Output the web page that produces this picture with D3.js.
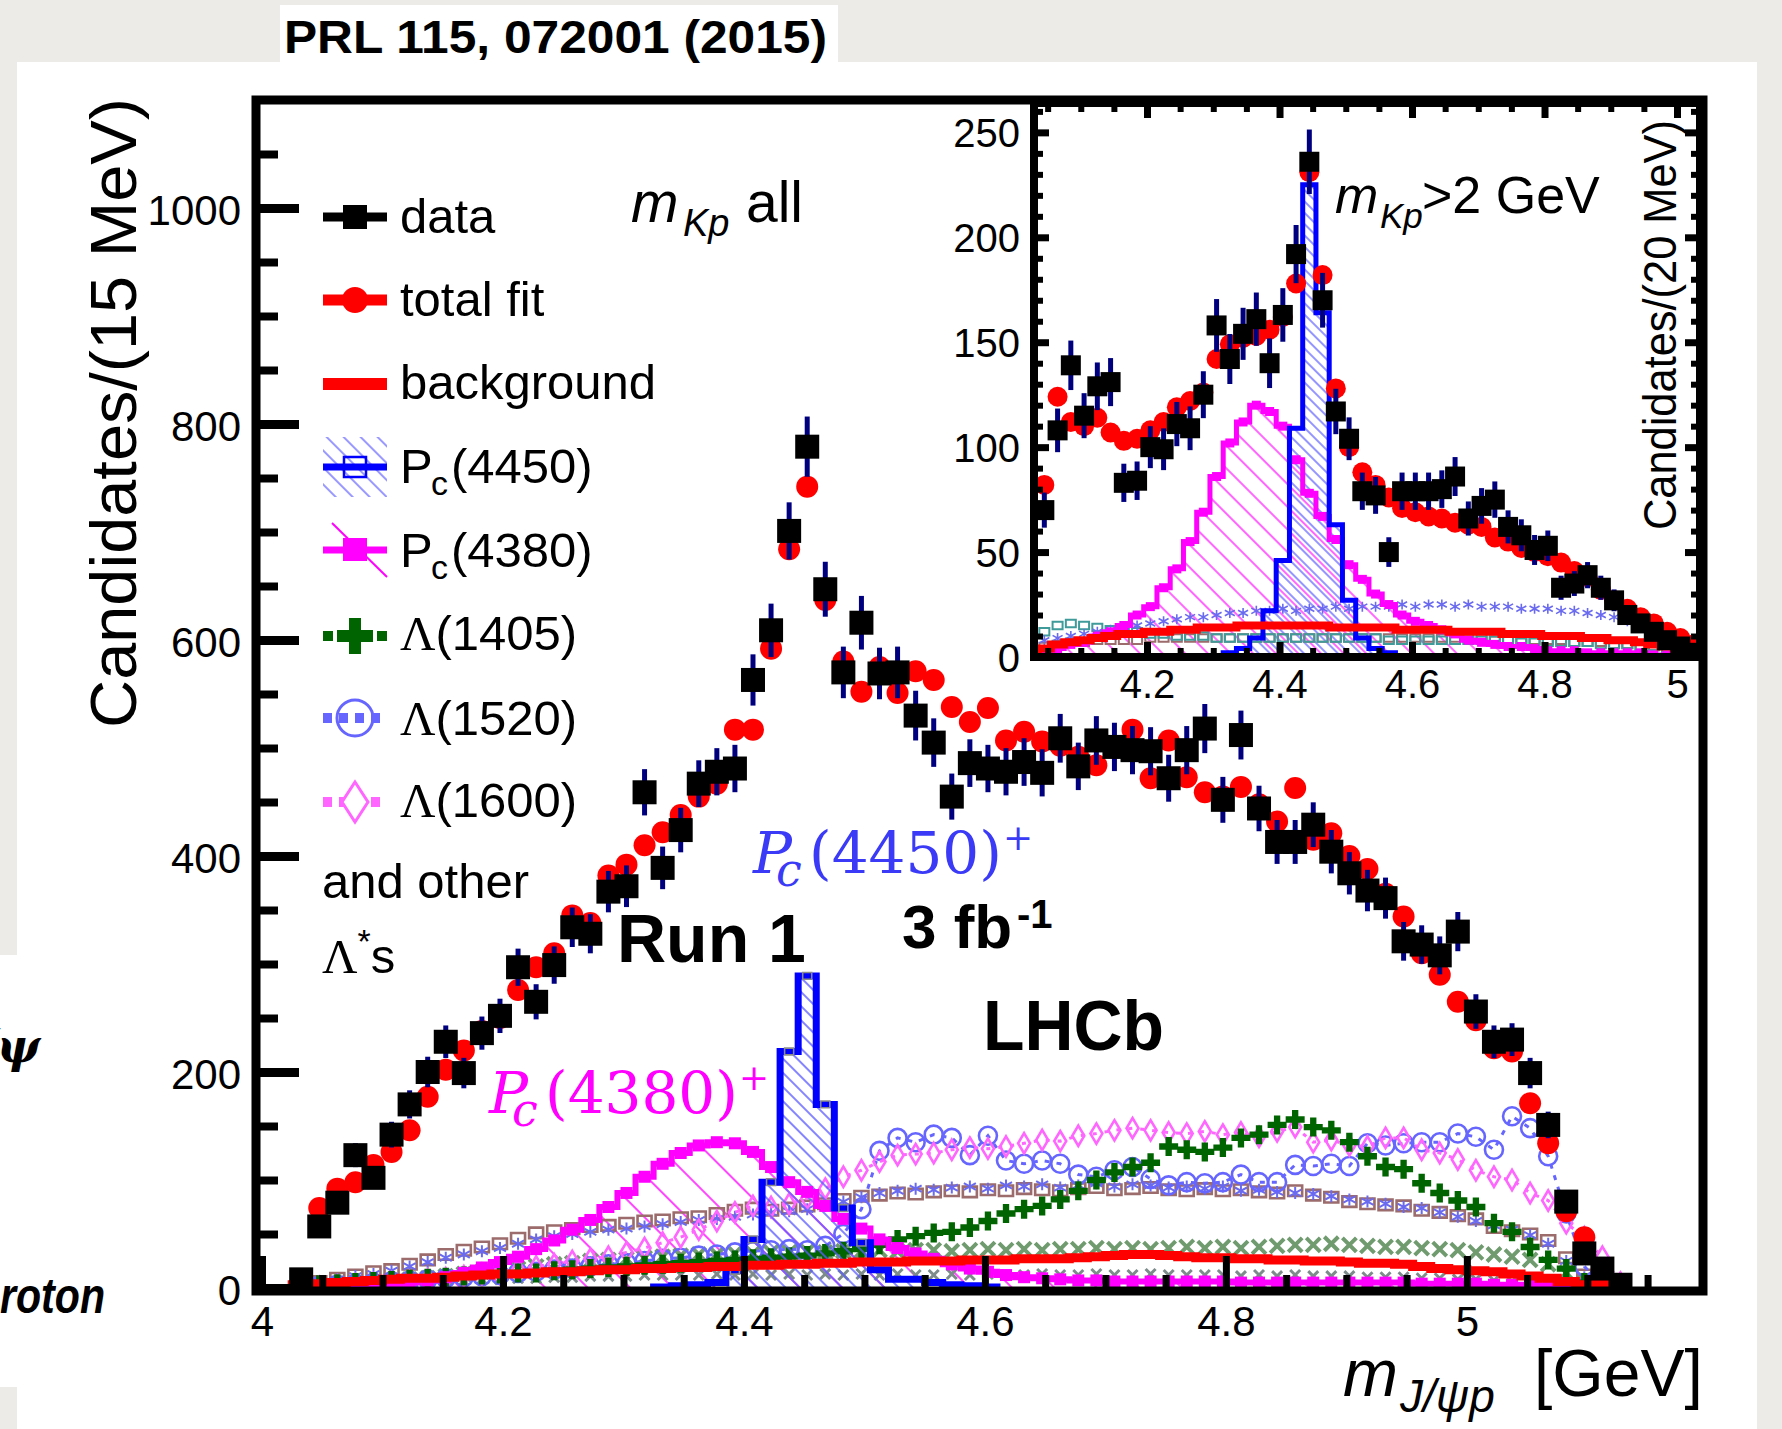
<!DOCTYPE html>
<html>
<head>
<meta charset="utf-8">
<script src="https://cdn.jsdelivr.net/npm/d3@7/dist/d3.min.js"></script>
<style>
html,body{margin:0;padding:0;background:#edebe7;}
svg{display:block;}
</style>
</head>
<body>
<svg id="chart"></svg>
<script>
// ---------------- DATA : main plot (15 MeV bins) ----------------
const mainBins = [4.0325,4.0475,4.0625,4.0775,4.0925,4.1075,4.1225,4.1375,4.1525,4.1675,4.1825,4.1975,4.2125,4.2275,4.2425,4.2575,4.2725,4.2875,4.3025,4.3175,4.3325,4.3475,4.3625,4.3775,4.3925,4.4075,4.4225,4.4375,4.4525,4.4675,4.4825,4.4975,4.5125,4.5275,4.5425,4.5575,4.5725,4.5875,4.6025,4.6175,4.6325,4.6475,4.6625,4.6775,4.6925,4.7075,4.7225,4.7375,4.7525,4.7675,4.7825,4.7975,4.8125,4.8275,4.8425,4.8575,4.8725,4.8875,4.9025,4.9175,4.9325,4.9475,4.9625,4.9775,4.9925,5.0075,5.0225,5.0375,5.0525,5.0675,5.0825,5.0975,5.1125,5.1275];
const mainData = [8,57,79,123,102,142,170,200,228,199,236,252,297,265,299,334,328,367,372,459,389,424,467,478,481,563,609,701,779,647,570,616,569,570,530,505,455,486,481,478,487,477,509,483,507,501,498,497,472,498,518,452,512,444,413,413,429,404,384,368,361,321,318,308,330,256,228,230,199,151,80,32,18,3];
const mainFit = [8,74,92,98,114,126,146,177,202,220,238,250,276,297,310,345,338,382,392,410,422,438,455,467,517,517,592,684,742,637,580,552,575,551,571,563,538,524,537,507,515,506,502,492,484,500,517,472,507,473,459,455,464,448,432,463,415,421,400,388,365,344,310,290,265,248,222,219,171,134,71,47,5,1];
const mainBkg = [3,4,5,6,7,8,9,9,10,11,12,13,13,14,15,15,16,17,17,18,18,19,19,20,20,21,21,22,22,23,23,24,24,24,25,25,25,26,26,26,27,27,27,28,29,30,31,31,30,29,28,28,27,27,26,26,25,25,24,23,23,22,20,18,17,16,15,13,11,9,6,3,1,0];
const mainPc4450 = [0,0,0,0,0,0,0,0,0,0,0,0,0,0,0,0,0,0,0,0,1,2,3,5,16,45,98,219,289,170,74,42,17,8,8,5,3,2,1,0,0,0,0,0,0,0,0,0,0,0,0,0,0,0,0,0,0,0,0,0,0,0,0,0,0,0,0,0,0,0,0,0,0,0];
const mainPc4380 = [1,1,1,1,2,3,5,7,10,14,19,24,29,36,44,54,63,75,88,103,115,125,132,135,134,126,112,98,89,76,64,55,45,37,32,27,22,18,15,12,10,9,8,7,7,6,6,6,6,6,6,6,5,5,5,5,5,5,5,5,5,5,4,4,4,4,3,3,3,2,1,0,0,0];
const mainL1405 = [1,3,4,5,6,7,8,9,10,11,12,13,14,14,16,17,18,19,20,21,22,23,24,25,26,27,28,29,30,32,34,36,40,45,48,51,52,56,62,69,73,76,82,90,100,107,112,116,131,128,126,130,139,142,151,156,149,146,135,122,112,110,97,88,81,75,60,52,38,26,18,5,1,0];
const mainL1520 = [1,2,3,4,5,6,7,8,9,10,11,12,14,15,17,18,20,22,23,25,27,28,30,31,33,34,35,36,35,39,50,73,127,139,135,142,139,123,141,118,115,118,115,105,103,109,112,101,95,98,97,98,105,98,98,114,113,115,113,134,132,134,135,135,143,140,128,159,148,122,69,20,3,0];
const mainL1600 = [0,1,2,3,4,5,6,8,9,11,13,15,17,20,22,25,27,29,33,37,42,47,54,62,70,76,75,78,83,92,103,109,117,123,124,125,128,130,129,131,134,137,136,141,143,146,148,146,144,143,145,142,144,140,145,149,135,137,132,131,139,139,128,125,119,109,103,100,88,81,60,47,29,5];
const mainOtherBrown = [2,6,9,12,15,17,22,26,31,35,38,41,46,51,53,55,57,58,60,62,63,65,66,69,72,74,72,74,76,78,82,85,86,88,87,89,90,89,91,90,92,91,90,92,93,91,92,93,91,90,92,90,91,89,88,90,86,84,80,78,77,76,72,70,67,64,56,53,50,44,28,12,3,0];
const mainOtherBlue = [1,4,8,11,13,16,20,24,28,31,34,37,41,45,48,50,52,54,55,57,59,61,63,64,66,68,70,71,73,76,80,84,88,90,92,91,93,94,92,95,94,96,93,95,97,94,96,95,93,94,92,94,90,91,89,88,87,85,82,80,78,75,74,70,66,62,58,54,49,41,25,10,2,0];
const mainOtherGreen = [1,2,3,4,5,6,8,9,11,13,15,17,18,20,22,23,25,26,27,28,29,30,31,31,32,32,33,33,34,33,34,34,35,34,35,35,34,35,36,35,36,35,36,36,37,36,37,36,37,38,37,38,37,38,39,40,40,41,40,39,38,38,37,36,35,33,31,29,26,22,14,6,1,0];
const mainOtherGrey = [1,2,3,3,4,5,5,6,7,7,8,8,9,9,10,10,11,11,11,12,12,12,12,13,12,13,12,13,12,13,12,13,12,13,12,12,13,12,13,12,12,13,12,12,13,12,12,13,12,12,12,12,11,12,11,12,11,11,11,10,10,10,9,9,8,8,7,6,5,4,3,1,0,0];

// ---------------- DATA : inset (20 MeV bins, mKp > 2 GeV) ----------------
const insetBins = [4.045,4.065,4.085,4.105,4.125,4.145,4.165,4.185,4.205,4.225,4.245,4.265,4.285,4.305,4.325,4.345,4.365,4.385,4.405,4.425,4.445,4.465,4.485,4.505,4.525,4.545,4.565,4.585,4.605,4.625,4.645,4.665,4.685,4.705,4.725,4.745,4.765,4.785,4.805,4.825,4.845,4.865,4.885,4.905,4.925,4.945,4.965,4.985,5.005,5.025];
const insetData = [70,108,139,115,129,131,83,84,100,99,111,109,125,158,142,154,161,140,163,192,236,170,117,104,79,77,50,79,79,79,80,86,66,72,75,62,58,51,53,33,35,39,33,27,20,16,12,8,5,2];
const insetFit = [82,124,112,110,114,107,103,104,108,112,119,122,126,142,149,152,153,156,162,178,231,182,128,100,88,82,76,71,69,67,66,64,63,62,57,55,52,50,48,45,41,38,32,27,23,19,16,12,9,6];
const insetBkg = [4,6,7,8,9,10,11,11,12,12,13,13,14,14,14,15,15,15,15,15,15,15,14,14,14,14,14,13,13,13,13,12,12,12,12,11,11,11,10,10,10,9,9,8,8,7,6,5,4,3];
const insetPc4450 = [0,0,0,0,0,0,0,0,0,0,0,0,0,0,2,4,9,22,46,109,225,164,63,27,9,4,2,0,0,0,0,0,0,0,0,0,0,0,0,0,0,0,0,0,0,0,0,0,0,0];
const insetPc4380 = [3,4,6,7,10,12,15,20,24,33,42,55,69,86,102,112,120,117,110,94,78,67,56,44,37,30,25,20,17,15,13,11,8,7,6,5,5,4,3,3,3,2,2,2,2,2,1,1,1,0];
const insetOtherBlue = [8,9,10,11,12,13,14,15,16,17,18,19,19,20,21,21,22,22,23,22,23,23,24,23,24,24,24,25,24,25,25,24,25,24,24,24,23,23,23,22,22,21,20,19,17,15,13,10,8,5];
const insetOtherTeal = [12,15,16,15,14,13,12,12,11,11,10,10,10,9,9,9,9,9,9,9,9,9,9,9,9,9,8,8,8,8,8,8,8,8,8,8,7,7,7,7,7,7,6,6,6,5,5,4,3,2];
const insetOtherBrown = [5,6,7,7,8,8,8,8,9,9,9,9,9,9,9,9,9,9,9,9,9,9,9,9,9,9,9,9,9,9,9,9,9,9,8,8,8,8,8,8,7,7,7,6,6,5,5,4,3,2];

// ---------------- ticks / labels ----------------
const mainXTicks = [4, 4.2, 4.4, 4.6, 4.8, 5];
const mainYTicks = [0, 200, 400, 600, 800, 1000];
const insetXTicks = [4.2, 4.4, 4.6, 4.8, 5];
const insetYTicks = [0, 50, 100, 150, 200, 250];
const legendLabels = ["data", "total fit", "background", "Pc(4450)", "Pc(4380)", "Λ(1405)", "Λ(1520)", "Λ(1600)"];

// ---------------- SETUP ----------------
const W = 1782, H = 1429;
const SANS = '"Liberation Sans", Arial, Helvetica, sans-serif';
const SERIF = '"Liberation Serif", "Times New Roman", serif';
const DSERIF = '"DejaVu Serif", serif';
const svg = d3.select('#chart').attr('width', W).attr('height', H);

// page / slide background
svg.append('rect').attr('width', W).attr('height', H).attr('fill', '#edebe7');
svg.append('rect').attr('x', 17).attr('y', 62).attr('width', 1740).attr('height', H - 62).attr('fill', '#fff');
svg.append('rect').attr('x', 0).attr('y', 955).attr('width', 17).attr('height', 432).attr('fill', '#fff');
svg.append('rect').attr('x', 280).attr('y', 5).attr('width', 558).attr('height', 58).attr('fill', '#fff');
svg.append('text').attr('x', 284).attr('y', 53).attr('font-family', SANS).attr('font-weight', 'bold')
  .attr('font-size', 46).attr('textLength', 543).attr('lengthAdjust', 'spacingAndGlyphs')
  .text('PRL 115, 072001 (2015)');
svg.append('text').attr('x', 40).attr('y', 1062).attr('text-anchor', 'end').attr('font-family', DSERIF)
  .attr('font-weight', 'bold').attr('font-style', 'italic').attr('font-size', 46).text('J/ψ');
svg.append('text').attr('x', 0).attr('y', 1313).attr('font-family', SANS)
  .attr('font-weight', 'bold').attr('font-style', 'italic').attr('font-size', 50)
  .attr('textLength', 105).attr('lengthAdjust', 'spacingAndGlyphs').text('roton');

const defs = svg.append('defs');
function hatch(id, color, gap, sw) {
  const p = defs.append('pattern').attr('id', id).attr('patternUnits', 'userSpaceOnUse')
    .attr('width', gap).attr('height', gap).attr('patternTransform', 'rotate(-45)');
  p.append('line').attr('x1', gap / 2).attr('y1', 0).attr('x2', gap / 2).attr('y2', gap)
    .attr('stroke', color).attr('stroke-width', sw);
}
hatch('hB', '#5c5cff', 10, 1.5);
hatch('hM', '#ff33ff', 30, 1.8);
hatch('hBi', '#5c5cff', 8, 1.3);
hatch('hMi', '#ff33ff', 16, 1.5);
hatch('hBl', '#8080ff', 12, 1.6);

// ---------------- helpers ----------------
function stepPath(centers, vals, w, xs, ys) {
  let i0 = vals.findIndex(v => v > 0), i1 = vals.length - 1;
  while (i1 >= 0 && vals[i1] <= 0) i1--;
  if (i0 < 0) return '';
  let p = `M${xs(centers[i0] - w / 2)},${ys(0)}`;
  for (let i = i0; i <= i1; i++) p += `V${ys(vals[i])}H${xs(centers[i] + w / 2)}`;
  return p + `V${ys(0)}`;
}
function shape(type, s) {
  const h = s / 2;
  switch (type) {
    case 'plus': { const a = s / 6; return `M${-a},${-h}H${a}V${-a}H${h}V${a}H${a}V${h}H${-a}V${a}H${-h}V${-a}H${-a}Z`; }
    case 'circle': return `M${-h},0A${h},${h} 0 1,0 ${h},0A${h},${h} 0 1,0 ${-h},0Z`;
    case 'diamond': return `M0,${-h * 1.35}L${h * 0.8},0L0,${h * 1.35}L${-h * 0.8},0Z`;
    case 'square': return `M${-h},${-h}H${h}V${h}H${-h}Z`;
    case 'rect': return `M${-h},${-h * 0.75}H${h}V${h * 0.75}H${-h}Z`;
    case 'x': return `M${-h},${-h}L${h},${h}M${h},${-h}L${-h},${h}`;
    case 'star': return `M0,${-h}V${h}M${-h},${-h * 0.55}L${h},${h * 0.55}M${h},${-h * 0.55}L${-h},${h * 0.55}`;
  }
}
function markers(g, centers, vals, xs, ys, type, s, color, filled, sw) {
  const pts = centers.map((c, i) => [xs(c), ys(vals[i]), vals[i]]).filter(p => p[2] > 0);
  g.append('g').selectAll('path').data(pts).join('path')
    .attr('transform', p => `translate(${p[0]},${p[1]})`)
    .attr('d', shape(type, s))
    .attr('fill', filled ? color : 'none')
    .attr('stroke', filled ? 'none' : color)
    .attr('stroke-width', sw || 2);
}
function hist(g, centers, vals, w, xs, ys, stroke, sw, fill) {
  g.append('path').attr('d', stepPath(centers, vals, w, xs, ys))
    .attr('fill', fill || 'none').attr('stroke', stroke || 'none').attr('stroke-width', sw || 0)
    .attr('stroke-linejoin', 'miter');
}
function styleAxis(g, sw) {
  g.select('.domain').remove();
  g.selectAll('.tick line').attr('stroke', '#000').attr('stroke-width', sw);
  g.selectAll('.tick text').attr('font-family', SANS).attr('fill', '#000');
}

// ---------------- MAIN PLOT ----------------
const x = d3.scaleLinear().domain([3.995, 5.196]).range([256, 1703]);
const y = d3.scaleLinear().domain([0, 1100]).range([1288, 100]);
defs.append('clipPath').attr('id', 'clipMain').append('rect')
  .attr('x', 256).attr('y', 100).attr('width', 1447).attr('height', 1191);
const gm = svg.append('g').attr('clip-path', 'url(#clipMain)');

const wM = 0.015;
hist(gm, mainBins, mainPc4380, wM, x, y, null, 0, 'url(#hM)');
markers(gm, mainBins, mainOtherGrey, x, y, 'x', 10, '#7d8b8b', false, 3);
markers(gm, mainBins, mainOtherGreen, x, y, 'x', 14, '#6f9b6f', false, 4);
markers(gm, mainBins, mainOtherBrown, x, y, 'rect', 14, '#9c6b6b', false, 2.6);
markers(gm, mainBins, mainOtherBlue, x, y, 'star', 12, '#6a6af0', false, 2);
gm.append('path').attr('d', d3.line().x((d, i) => x(mainBins[i])).y(d => y(d))(mainL1520))
  .attr('fill', 'none').attr('stroke', '#6666ff').attr('stroke-width', 3).attr('stroke-dasharray', '5,7');
markers(gm, mainBins, mainL1520, x, y, 'circle', 18, '#6666ff', false, 2.6);
gm.append('path').attr('d', d3.line().x((d, i) => x(mainBins[i])).y(d => y(d))(mainL1600))
  .attr('fill', 'none').attr('stroke', '#ff66ff').attr('stroke-width', 3).attr('stroke-dasharray', '4,8');
markers(gm, mainBins, mainL1600, x, y, 'diamond', 15, '#ff66ff', false, 2.6);
markers(gm, mainBins, mainL1405, x, y, 'plus', 19, '#006400', true);
hist(gm, mainBins, mainPc4450, wM, x, y, null, 0, 'url(#hB)');
hist(gm, mainBins, mainPc4380, wM, x, y, '#ff00ff', 6);
markers(gm, mainBins, mainPc4380, x, y, 'square', 12, '#ff00ff', true);
hist(gm, mainBins, mainPc4450, wM, x, y, '#0000ff', 7);
markers(gm, mainBins.slice(24, 32), mainPc4450.slice(24, 32), x, y, 'rect', 9, '#8a8a8a', false, 1.6);
hist(gm, mainBins, mainBkg, wM, x, y, '#ff0000', 9);
gm.append('g').selectAll('circle').data(mainFit).join('circle')
  .attr('cx', (d, i) => x(mainBins[i])).attr('cy', d => y(d)).attr('r', 11).attr('fill', '#ff0000');
gm.append('g').selectAll('line').data(mainData).join('line')
  .attr('x1', (d, i) => x(mainBins[i])).attr('x2', (d, i) => x(mainBins[i]))
  .attr('y1', d => y(d + Math.sqrt(d))).attr('y2', d => y(Math.max(0, d - Math.sqrt(d))))
  .attr('stroke', '#00007f').attr('stroke-width', 5);
gm.append('g').selectAll('rect').data(mainData).join('rect')
  .attr('x', (d, i) => x(mainBins[i]) - 12).attr('y', d => y(d) - 12)
  .attr('width', 24).attr('height', 24).attr('fill', '#000');

// main axes
const gyM = svg.append('g').attr('transform', 'translate(256,0)')
  .call(d3.axisLeft(y).tickValues(mainYTicks).tickSize(-43).tickPadding(15).tickFormat(d3.format('d')));
styleAxis(gyM, 9);
gyM.selectAll('.tick text').attr('font-size', 42).attr('dy', '0.4em');
const gyMm = svg.append('g').attr('transform', 'translate(256,0)')
  .call(d3.axisLeft(y).tickValues(d3.range(50, 1100, 50).filter(v => v % 200 !== 0)).tickSize(-22).tickFormat(''));
styleAxis(gyMm, 8);
const gxM = svg.append('g').attr('transform', 'translate(0,1290)')
  .call(d3.axisBottom(x).tickValues(mainXTicks).tickSize(-34).tickPadding(16).tickFormat(d3.format('~g')));
styleAxis(gxM, 7);
gxM.selectAll('.tick text').attr('font-size', 42);
const gxMm = svg.append('g').attr('transform', 'translate(0,1290)')
  .call(d3.axisBottom(x).tickValues(d3.range(4.05, 5.19, 0.05).filter(v => Math.abs(v * 5 - Math.round(v * 5)) > 0.01)).tickSize(-15).tickFormat(''));
styleAxis(gxMm, 7);
svg.append('rect').attr('x', 256).attr('y', 100).attr('width', 1447).attr('height', 1191)
  .attr('fill', 'none').attr('stroke', '#000').attr('stroke-width', 9);

// axis titles
svg.append('text').attr('transform', 'translate(136,98) rotate(-90)').attr('text-anchor', 'end')
  .attr('font-family', SANS).attr('font-size', 64).attr('textLength', 630).attr('lengthAdjust', 'spacingAndGlyphs')
  .text('Candidates/(15 MeV)');
{
  const t = svg.append('text').attr('font-family', SANS).attr('font-size', 66).attr('y', 1396);
  t.append('tspan').attr('x', 1343).attr('font-style', 'italic').text('m');
  t.append('tspan').attr('x', 1400).attr('y', 1412).attr('font-size', 46).attr('font-style', 'italic').text('J/ψp');
  t.append('tspan').attr('x', 1534).attr('y', 1396).text('[GeV]');
}

// annotations in main plot
{
  const t = svg.append('text').attr('font-family', SANS).attr('font-size', 57).attr('y', 222);
  t.append('tspan').attr('x', 631).attr('font-style', 'italic').text('m');
  t.append('tspan').attr('x', 683).attr('y', 236).attr('font-size', 38).attr('font-style', 'italic').text('Kp');
  t.append('tspan').attr('x', 746).attr('y', 222).text('all');
}
function pcLabel(px, base, label, color) {
  const t = svg.append('text').attr('font-family', DSERIF).attr('fill', color).attr('font-size', 58).attr('y', base);
  t.append('tspan').attr('x', px).attr('font-style', 'italic').text('P');
  t.append('tspan').attr('x', px + 23).attr('y', base + 13).attr('font-size', 46).attr('font-style', 'italic').text('c');
  t.append('tspan').attr('x', px + 56).attr('y', base).text('(' + label + ')');
  t.append('tspan').attr('x', px + 250).attr('y', base - 23).attr('font-size', 36).text('+');
}
pcLabel(753, 873, '4450', '#3a3af7');
pcLabel(489, 1113, '4380', '#ff00ff');
{
  const t = svg.append('text').attr('font-family', SANS).attr('font-weight', 'bold').attr('font-size', 62).attr('y', 948);
  t.append('tspan').attr('x', 902).text('3 fb');
  t.append('tspan').attr('x', 1017).attr('y', 928).attr('font-size', 40).text('-1');
}
svg.append('text').attr('x', 617).attr('y', 962).attr('font-family', SANS).attr('font-weight', 'bold')
  .attr('font-size', 68).text('Run 1');
svg.append('text').attr('x', 983).attr('y', 1050).attr('font-family', SANS).attr('font-weight', 'bold')
  .attr('font-size', 70).attr('textLength', 181).attr('lengthAdjust', 'spacingAndGlyphs').text('LHCb');

// legend
{
  const L = svg.append('g');
  const x1 = 323, x2 = 387, cx = 355;
  const rows = [217, 300, 384, 467, 550, 636, 718, 802];
  const base = [233, 316, 399, 483, 567, 650, 735, 817];
  L.append('line').attr('x1', x1).attr('x2', x2).attr('y1', rows[0]).attr('y2', rows[0]).attr('stroke', '#000').attr('stroke-width', 9);
  L.append('rect').attr('x', cx - 12).attr('y', rows[0] - 12).attr('width', 24).attr('height', 24).attr('fill', '#000');
  L.append('line').attr('x1', x1).attr('x2', x2).attr('y1', rows[1]).attr('y2', rows[1]).attr('stroke', '#f00').attr('stroke-width', 11);
  L.append('circle').attr('cx', cx).attr('cy', rows[1]).attr('r', 13).attr('fill', '#f00');
  L.append('line').attr('x1', x1).attr('x2', x2).attr('y1', rows[2]).attr('y2', rows[2]).attr('stroke', '#f00').attr('stroke-width', 12);
  L.append('rect').attr('x', x1).attr('y', rows[3] - 30).attr('width', x2 - x1).attr('height', 60).attr('fill', 'url(#hBl)');
  L.append('line').attr('x1', x1).attr('x2', x2).attr('y1', rows[3]).attr('y2', rows[3]).attr('stroke', '#00f').attr('stroke-width', 7);
  L.append('rect').attr('x', cx - 11).attr('y', rows[3] - 10).attr('width', 22).attr('height', 20).attr('fill', 'none').attr('stroke', '#00f').attr('stroke-width', 2.5);
  L.append('line').attr('x1', 332).attr('y1', rows[4] - 27).attr('x2', 387).attr('y2', rows[4] + 27).attr('stroke', '#f0f').attr('stroke-width', 2);
  L.append('line').attr('x1', x1).attr('x2', x2).attr('y1', rows[4]).attr('y2', rows[4]).attr('stroke', '#f0f').attr('stroke-width', 7);
  L.append('rect').attr('x', cx - 12).attr('y', rows[4] - 12).attr('width', 24).attr('height', 23).attr('fill', '#f0f');
  L.append('line').attr('x1', x1).attr('x2', x2).attr('y1', rows[5]).attr('y2', rows[5]).attr('stroke', '#006400').attr('stroke-width', 10).attr('stroke-dasharray', '10,44');
  L.append('path').attr('transform', `translate(${cx},${rows[5]})`).attr('d', shape('plus', 36)).attr('fill', '#006400');
  L.append('line').attr('x1', x1).attr('x2', x2).attr('y1', rows[6]).attr('y2', rows[6]).attr('stroke', '#6666ff').attr('stroke-width', 10).attr('stroke-dasharray', '9,7');
  L.append('circle').attr('cx', cx).attr('cy', rows[6]).attr('r', 18).attr('fill', 'none').attr('stroke', '#6666ff').attr('stroke-width', 3);
  L.append('line').attr('x1', x1).attr('x2', x2).attr('y1', rows[7]).attr('y2', rows[7]).attr('stroke', '#ff66ff').attr('stroke-width', 10).attr('stroke-dasharray', '9,7');
  L.append('path').attr('transform', `translate(${cx},${rows[7]})`).attr('d', `M0,-20L13,0L0,20L-13,0Z`).attr('fill', '#fff').attr('stroke', '#ff66ff').attr('stroke-width', 3);

  const tx = 400;
  legendLabels.forEach((lab, i) => {
    const t = L.append('text').attr('x', tx).attr('y', base[i]).attr('font-family', SANS).attr('font-size', 49);
    if (lab.startsWith('Pc')) {
      t.append('tspan').text('P');
      t.append('tspan').attr('x', tx + 31).attr('dy', 12).attr('font-size', 34).text('c');
      t.append('tspan').attr('x', tx + 51).attr('dy', -12).text(lab.slice(2));
    } else if (lab.startsWith('Λ')) {
      t.append('tspan').attr('font-family', SERIF).text('Λ');
      t.append('tspan').text(lab.slice(1));
    } else t.text(lab);
  });
  L.append('text').attr('x', 322).attr('y', 898).attr('font-family', SANS).attr('font-size', 49).text('and other');
  const t2 = L.append('text').attr('x', 322).attr('y', 973).attr('font-family', SANS).attr('font-size', 49);
  t2.append('tspan').attr('font-family', SERIF).text('Λ');
  t2.append('tspan').attr('dy', -20).attr('font-size', 34).text('*');
  t2.append('tspan').attr('dy', 20).text('s');
}

// ---------------- INSET ----------------
const xi = d3.scaleLinear().domain([4.0294, 5.0347]).range([1034, 1700]);
const yi = d3.scaleLinear().domain([0, 264]).range([657, 103]);
svg.append('rect').attr('x', 1034).attr('y', 103).attr('width', 666).attr('height', 554).attr('fill', '#fff');
defs.append('clipPath').attr('id', 'clipIn').append('rect')
  .attr('x', 1034).attr('y', 103).attr('width', 666).attr('height', 554);
const gi = svg.append('g').attr('clip-path', 'url(#clipIn)');
const wI = 0.02;
hist(gi, insetBins, insetPc4380, wI, xi, yi, null, 0, 'url(#hMi)');
hist(gi, insetBins, insetPc4450, wI, xi, yi, null, 0, 'url(#hBi)');
markers(gi, insetBins, insetOtherBrown, xi, yi, 'rect', 10, '#9c6b6b', false, 2);
markers(gi, insetBins, insetOtherTeal, xi, yi, 'rect', 10, '#3f9a9a', false, 2);
markers(gi, insetBins, insetOtherBlue, xi, yi, 'star', 10, '#6a6af0', false, 1.6);
hist(gi, insetBins, insetPc4380, wI, xi, yi, '#ff00ff', 5);
markers(gi, insetBins, insetPc4380, xi, yi, 'square', 9, '#ff00ff', true);
hist(gi, insetBins, insetPc4450, wI, xi, yi, '#0000ff', 5);
hist(gi, insetBins, insetBkg, wI, xi, yi, '#ff0000', 8);
gi.append('g').selectAll('circle').data(insetFit).join('circle')
  .attr('cx', (d, i) => xi(insetBins[i])).attr('cy', d => yi(d)).attr('r', 10).attr('fill', '#ff0000');
gi.append('g').selectAll('line').data(insetData).join('line')
  .attr('x1', (d, i) => xi(insetBins[i])).attr('x2', (d, i) => xi(insetBins[i]))
  .attr('y1', d => yi(d + Math.sqrt(d))).attr('y2', d => yi(Math.max(0, d - Math.sqrt(d))))
  .attr('stroke', '#00007f').attr('stroke-width', 5);
gi.append('g').selectAll('rect').data(insetData).join('rect')
  .attr('x', (d, i) => xi(insetBins[i]) - 10).attr('y', d => yi(d) - 10)
  .attr('width', 20).attr('height', 20).attr('fill', '#000');

// inset axes (ticks on all four sides)
const iyMinor = d3.range(10, 264, 10).filter(v => v % 50 !== 0);
const ixMinor = d3.range(4.05, 5.03, 0.05).filter(v => Math.abs(v * 5 - Math.round(v * 5)) > 0.01);
const gyI = svg.append('g').attr('transform', 'translate(1034,0)')
  .call(d3.axisLeft(yi).tickValues(insetYTicks).tickSize(-15).tickPadding(14).tickFormat(d3.format('d')));
styleAxis(gyI, 7);
gyI.selectAll('.tick text').attr('font-size', 40).attr('dy', '0.36em');
styleAxis(svg.append('g').attr('transform', 'translate(1034,0)').call(d3.axisLeft(yi).tickValues(iyMinor).tickSize(-9).tickFormat('')), 6);
styleAxis(svg.append('g').attr('transform', 'translate(1700,0)').call(d3.axisRight(yi).tickValues(insetYTicks).tickSize(-15).tickFormat('')), 7);
styleAxis(svg.append('g').attr('transform', 'translate(1700,0)').call(d3.axisRight(yi).tickValues(iyMinor).tickSize(-9).tickFormat('')), 6);
const gxI = svg.append('g').attr('transform', 'translate(0,657)')
  .call(d3.axisBottom(xi).tickValues(insetXTicks).tickSize(-15).tickPadding(13).tickFormat(d3.format('~g')));
styleAxis(gxI, 7);
gxI.selectAll('.tick text').attr('font-size', 40);
styleAxis(svg.append('g').attr('transform', 'translate(0,657)').call(d3.axisBottom(xi).tickValues(ixMinor).tickSize(-9).tickFormat('')), 6);
styleAxis(svg.append('g').attr('transform', 'translate(0,103)').call(d3.axisTop(xi).tickValues(insetXTicks).tickSize(-15).tickFormat('')), 7);
styleAxis(svg.append('g').attr('transform', 'translate(0,103)').call(d3.axisTop(xi).tickValues(ixMinor).tickSize(-9).tickFormat('')), 6);
svg.append('rect').attr('x', 1034).attr('y', 103).attr('width', 666).attr('height', 554)
  .attr('fill', 'none').attr('stroke', '#000').attr('stroke-width', 8);

svg.append('text').attr('transform', 'translate(1676,120) rotate(-90)').attr('text-anchor', 'end')
  .attr('font-family', SANS).attr('font-size', 46).attr('textLength', 410).attr('lengthAdjust', 'spacingAndGlyphs')
  .text('Candidates/(20 MeV)');
{
  const t = svg.append('text').attr('font-family', SANS).attr('font-size', 52).attr('y', 213);
  t.append('tspan').attr('x', 1335).attr('font-style', 'italic').text('m');
  t.append('tspan').attr('x', 1380).attr('y', 228).attr('font-size', 35).attr('font-style', 'italic').text('Kp');
  t.append('tspan').attr('x', 1422).attr('y', 213).text('>2 GeV');
}
</script>
</body>
</html>
